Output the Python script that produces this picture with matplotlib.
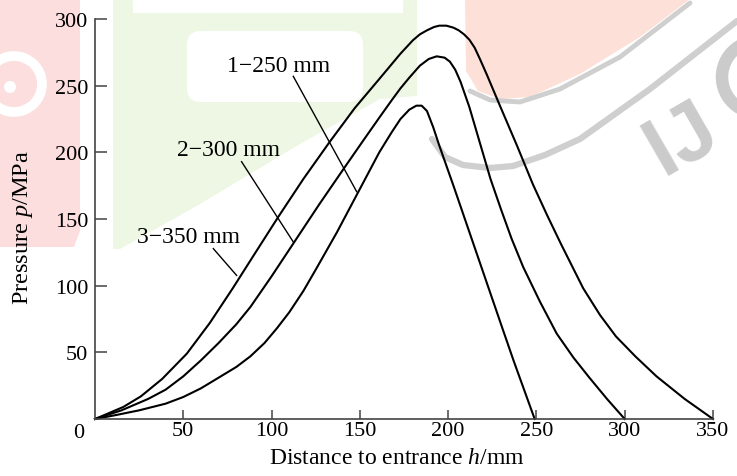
import matplotlib
matplotlib.use("Agg")
import matplotlib.pyplot as plt
from matplotlib.patches import Polygon, FancyBboxPatch, Rectangle, Circle, Arc

plt.rcParams['font.family'] = ['Liberation Serif', 'DejaVu Serif']
plt.rcParams['mathtext.fontset'] = 'custom'
plt.rcParams['mathtext.rm'] = 'Liberation Serif'
plt.rcParams['mathtext.it'] = 'Liberation Serif:italic'

# ---------------- data ----------------
# curve 1 : billet length 250 mm
x_250 = [0, 12, 25, 40, 50, 60, 70, 80, 88, 96, 103, 110, 118, 125, 137, 149, 161, 168, 173,
         178, 182, 185, 188, 191.5, 195, 199, 203, 210, 217, 224, 231, 237, 243, 249]
p_250 = [0, 3, 6.5, 11.5, 16.5, 23, 31, 39, 47, 57, 68, 80, 96, 112, 140, 170, 200, 215, 225,
         232, 235, 235, 231, 219, 205, 190, 175, 148, 121, 94, 67, 44, 22, 0]

# curve 2 : billet length 300 mm
x_300 = [0, 15, 30, 40, 50, 60, 70, 80, 88, 100, 113, 127, 141, 152, 161, 168, 173, 178,
         184, 189, 193.5, 198, 201, 204, 207, 212, 218, 224, 230, 236, 242.5, 252,
         261.5, 271, 280, 290, 300]
p_300 = [0, 6.5, 15, 22, 32, 44, 57, 71, 84, 107, 133, 161, 188, 209, 226, 239, 248, 256,
         265, 270, 272, 271, 268, 262, 253, 234, 207, 180, 157, 135, 114, 88,
         64, 46, 31, 15, 0]

# curve 3 : billet length 350 mm
x_350 = [0, 16, 26, 38, 52, 65, 78, 90, 104, 118, 133, 147, 161, 173, 180, 184, 188, 192,
         195, 199, 203, 206, 209, 212, 215, 218, 222, 229, 239, 248, 256, 264, 276.5, 286,
         295, 306, 318, 334, 350]
p_350 = [0, 9, 17, 30, 49, 72, 98, 123, 152, 180, 208, 233, 255, 274, 284, 288.5, 291.5, 294,
         295, 295, 293.5, 291.5, 288.5, 284.5, 278.5, 270, 258, 236, 205, 176, 153, 131, 98, 78,
         62, 47, 32, 15, 0]

curve_labels = ["1\u2212250 mm", "2\u2212300 mm", "3\u2212350 mm"]
x_ticks = [50, 100, 150, 200, 250, 300, 350]
y_ticks = [50, 100, 150, 200, 250, 300]

# annotation placement (label centre, leader start, leader end) in data units
label_pos = [(104, 265), (75.5, 202), (53, 136.5)]
leader_start = [(112.3, 257), (83, 193), (67, 127.8)]
leader_end = [(148.2, 170.5), (112.3, 132.8), (80.2, 107.7)]

W, H = 737, 477
fig = plt.figure(figsize=(W / 100, H / 100), dpi=100)

# ---------------- faint watermark background ----------------
bg = fig.add_axes([0, 0, 1, 1], zorder=-5)
bg.set_xlim(0, W)
bg.set_ylim(H, 0)
bg.axis('off')
bg.add_patch(Polygon([(0, 0), (80, 0), (80, 232), (74, 248), (0, 248)],
                     closed=True, fc='#fcdede', ec='none'))
bg.add_patch(Circle((14, 85), 28, fill=False, ec='white', lw=7))
bg.add_patch(Circle((10, 88), 6, fc='white', ec='none'))
bg.add_patch(Polygon([(113, 0), (417, 0), (417, 97), (380, 100), (300, 145),
                      (200, 205), (120, 250), (113, 250)],
                     closed=True, fc='#eef7e4', ec='none'))
bg.add_patch(Rectangle((133, 0), 270, 14, fc='white', ec='none'))
bg.add_patch(FancyBboxPatch((195, 40), 160, 55, boxstyle='round,pad=8,rounding_size=14',
                            fc='white', ec='none'))
bg.add_patch(Polygon([(465, 0), (690, 0), (640, 38), (580, 75), (530, 98), (500, 100),
                      (478, 92), (466, 72)], closed=True, fc='#fde1d9', ec='none'))
bg.plot([470, 490, 520, 560, 620, 690], [92, 101, 103, 90, 58, 4], color='#cfcfcf', lw=3.5,
        solid_capstyle='round')
bg.plot([432, 445, 463, 490, 513, 545, 580, 650, 737], [140, 158, 166, 169, 167, 156, 140, 90, 22],
        color='#cfcfcf', lw=4.5, solid_capstyle='round')
bg.text(663, 176, "IJ", fontsize=60, fontweight='bold', family='Liberation Sans',
        color='#cbcbcb', rotation=30, rotation_mode='anchor', ha='left', va='baseline')
bg.add_patch(Arc((758, 78), 72, 72, angle=30, theta1=70, theta2=290, lw=9, color='#cbcbcb'))

# ---------------- main axes ----------------
ax = fig.add_axes([95 / W, (H - 420) / H, (713 - 95) / W, (420 - 20) / H])
ax.set_facecolor('none')

for xs, ps in ((x_250, p_250), (x_300, p_300), (x_350, p_350)):
    ax.plot(xs, ps, color='black', lw=1.5, solid_joinstyle='round', clip_on=False)

for txt, (tx, ty), (sx, sy), (ex, ey) in zip(curve_labels, label_pos, leader_start, leader_end):
    ax.text(tx, ty, txt, fontsize=17, ha='center', va='center')
    ax.plot([sx, ex], [sy, ey], color='black', lw=1.0)

ax.set_xlim(0, 350)
ax.set_ylim(0, 300)
ax.set_xticks(x_ticks)
ax.set_yticks(y_ticks)
ax.tick_params(axis='x', direction='in', length=6.5, width=1.1, color='#444444',
               labelsize=16, pad=1.5)
ax.tick_params(axis='y', direction='in', length=8.5, width=1.1, color='#444444',
               labelsize=16, pad=5)
for s in ('top', 'right'):
    ax.spines[s].set_visible(False)
for s in ('left', 'bottom'):
    ax.spines[s].set_color('#444444')
    ax.spines[s].set_linewidth(1.2)

ax.annotate("0", xy=(0, 0), xytext=(-8, -3), textcoords='offset points',
            fontsize=16, ha='right', va='top')

ax.set_xlabel("Distance to entrance $h$/mm", fontsize=17)
ax.xaxis.set_label_coords((397 - 95) / (713 - 95), (420 - 448) / 400)
ax.set_ylabel("Pressure $p$/MPa", fontsize=17.5)
ax.yaxis.set_label_coords((35 - 95) / (713 - 95), (420 - 228) / 400)

fig.savefig("out.png", dpi=100)
